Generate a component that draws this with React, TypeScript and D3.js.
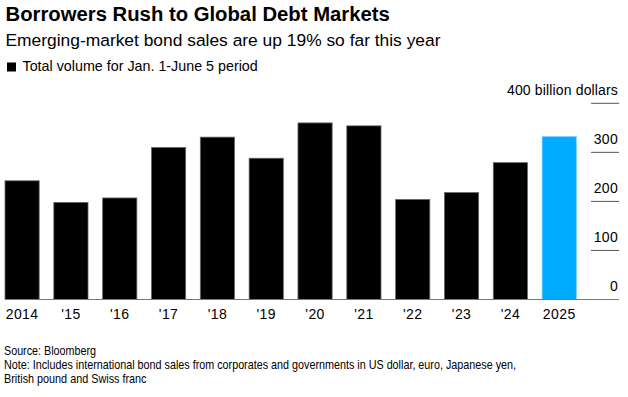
import { useEffect, useRef } from 'react';
import * as d3 from 'd3';

const WIDTH = 628;
const HEIGHT = 397;

const years = ['2014', '2015', '2016', '2017', '2018', '2019', '2020', '2021', '2022', '2023', '2024', '2025'];
const yearLabels = ['2014', "'15", "'16", "'17", "'18", "'19", "'20", "'21", "'22", "'23", "'24", '2025'];
const volumes = [242, 198, 207, 310, 331, 288, 360, 354, 204, 218, 279, 332];
const yTicks = [0, 100, 200, 300, 400];

const FONT = '"Liberation Sans", Arial, Helvetica, sans-serif';

export default function App() {
  const svgRef = useRef<SVGSVGElement>(null);

  useEffect(() => {
    if (!svgRef.current) return;
    const svg = d3.select(svgRef.current);
    svg.selectAll('*').remove();

    const x = d3.scaleBand<string>().domain(years).range([5, 576.3]).paddingInner(0.3).paddingOuter(0);
    const y = d3.scaleLinear().domain([0, 400]).range([299.5, 103.3]);

    // Title block
    svg.append('text')
      .attr('x', 5.5).attr('y', 21)
      .attr('font-size', 20.3).attr('font-weight', 'bold').attr('fill', '#000')
      .text('Borrowers Rush to Global Debt Markets');
    svg.append('text')
      .attr('x', 5.5).attr('y', 46)
      .attr('font-size', 17.4).attr('fill', '#000')
      .text('Emerging-market bond sales are up 19% so far this year');

    // Legend
    svg.append('rect')
      .attr('x', 7).attr('y', 62.5).attr('width', 9).attr('height', 9).attr('fill', '#000');
    svg.append('text')
      .attr('x', 22.5).attr('y', 71)
      .attr('font-size', 14.3).attr('fill', '#000')
      .text('Total volume for Jan. 1-June 5 period');

    // Y gridline stubs + labels
    yTicks.forEach((t) => {
      if (t > 0) {
        svg.append('line')
          .attr('x1', 591).attr('x2', 619)
          .attr('y1', y(t)).attr('y2', y(t))
          .attr('stroke', '#555').attr('stroke-width', 1);
      }
      svg.append('text')
        .attr('x', 618).attr('y', y(t) - 8.5)
        .attr('text-anchor', 'end')
        .attr('font-size', 14).attr('fill', '#000')
        .attr('letter-spacing', t === 400 ? 0.15 : 0.3)
        .text(t === 400 ? '400 billion dollars' : String(t));
    });

    // Bars
    svg.append('g')
      .selectAll('rect')
      .data(years)
      .join('rect')
      .attr('x', (d) => x(d)!)
      .attr('y', (_, i) => y(volumes[i]))
      .attr('width', x.bandwidth())
      .attr('height', (_, i) => y(0) - y(volumes[i]))
      .attr('fill', (d) => (d === '2025' ? '#00aaff' : '#000'))
      .attr('stroke', (d) => (d === '2025' ? '#6cd0ff' : '#666'))
      .attr('stroke-width', 0.8);

    // Baseline
    svg.append('line')
      .attr('x1', 5).attr('x2', 619)
      .attr('y1', y(0)).attr('y2', y(0))
      .attr('stroke', '#777').attr('stroke-width', 1.2);

    // X labels
    svg.append('g')
      .selectAll('text')
      .data(years)
      .join('text')
      .attr('x', (d) => x(d)! + x.bandwidth() / 2)
      .attr('y', 318.5)
      .attr('text-anchor', 'middle')
      .attr('font-size', 14).attr('fill', '#000')
      .attr('letter-spacing', 0.4)
      .text((_, i) => yearLabels[i]);

    // Footer (source font is narrower than Arial, so fit each line to its measured width)
    const notes = [
      'Source: Bloomberg',
      'Note: Includes international bond sales from corporates and governments in US dollar, euro, Japanese yen,',
      'British pound and Swiss franc',
    ];
    const noteWidths = [92, 512, 142.5];
    notes.forEach((n, i) => {
      svg.append('text')
        .attr('x', 4).attr('y', 355.3 + i * 14)
        .attr('font-size', 12.6).attr('fill', '#000')
        .attr('textLength', noteWidths[i])
        .attr('lengthAdjust', 'spacingAndGlyphs')
        .text(n);
    });
  }, []);

  return (
    <svg
      ref={svgRef}
      width={WIDTH}
      height={HEIGHT}
      style={{ position: 'absolute', left: 0, top: 0, background: '#fff', fontFamily: FONT }}
    />
  );
}
